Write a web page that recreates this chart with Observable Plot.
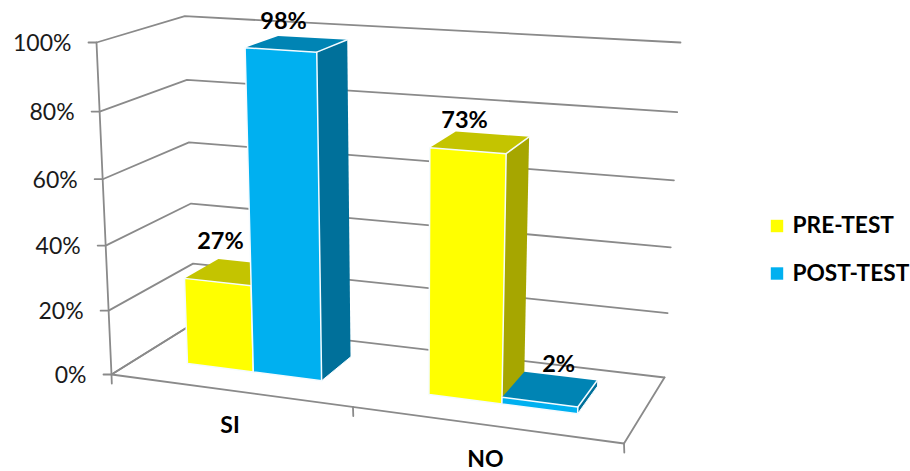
<!doctype html>
<html>
<head>
<meta charset="utf-8">
<style>html,body{margin:0;background:#fff}</style>
<script src="https://cdn.jsdelivr.net/npm/d3@7"></script>
<script src="https://cdn.jsdelivr.net/npm/@observablehq/plot@0.6"></script>
</head>
<body>
<script>
// Survey answers before and after the course, in percent.
const categories = ["SI", "NO"];
const seriesNames = ["PRE-TEST", "POST-TEST"];
const preTest = [27, 73];
const postTest = [98, 2];
const ticks = [0, 20, 40, 60, 80, 100];

const frontColors = ["#FFFF00", "#00B0F0"];
const topColors = ["#C4C400", "#0084B4"];
const sideColors = ["#A6A600", "#00709A"];
const gridColor = "#8A8A8A";

// Perspective box of the 3D chart: floor and ceiling quads, listed
// front-left, front-right, back-right, back-left.
const floorQuad = [[111, 374], [623.5, 443], [664, 377], [194.5, 322]];
const ceilingQuad = [[96, 42], [639, 76], [680, 42], [184.3, 15.7]];

function homography([p0, p1, p2, p3]) {
  const dx1 = p1[0] - p2[0], dx2 = p3[0] - p2[0], sx = p0[0] - p1[0] + p2[0] - p3[0];
  const dy1 = p1[1] - p2[1], dy2 = p3[1] - p2[1], sy = p0[1] - p1[1] + p2[1] - p3[1];
  const den = dx1 * dy2 - dx2 * dy1;
  const g = (sx * dy2 - dx2 * sy) / den, h = (dx1 * sy - sx * dy1) / den;
  const a = p1[0] - p0[0] + g * p1[0], b = p3[0] - p0[0] + h * p3[0];
  const d = p1[1] - p0[1] + g * p1[1], e = p3[1] - p0[1] + h * p3[1];
  return (u, v) => {
    const w = g * u + h * v + 1;
    return [(a * u + b * v + p0[0]) / w, (d * u + e * v + p0[1]) / w];
  };
}
const floorAt = homography(floorQuad);
const ceilingAt = homography(ceilingQuad);

// u runs along the categories, v into the depth, value up the wall.
function project(u, v, value) {
  const t = value / 100;
  const s = t / (1 + 0.05 * (1 - t));
  const f = floorAt(u, v), c = ceilingAt(u, v);
  return {x: f[0] + (c[0] - f[0]) * s, y: f[1] + (c[1] - f[1]) * s};
}

const groupCenters = [0.253, 0.753];
const barWidths = [0.144, 0.14];
const depthFront = 0.31, depthBack = 0.73;

const layers = [];
const poly = (points, options) => layers.push(Plot.line(points, {x: "x", y: "y", ...options}));

// Walls: one polyline per gridline, with its tick on the left.
const gridStyle = {stroke: gridColor, strokeWidth: 1.8};
for (const t of ticks) {
  const a = project(0, 0, t);
  poly([{x: a.x - 8, y: a.y}, a, project(0, 1, t), project(1, 1, t)], gridStyle);
}
poly([project(0, 0, 100), project(0, 0, 0)], gridStyle);
poly([project(0, 1, 0), project(0, 0, 0), project(1, 0, 0), project(1, 1, 0)], gridStyle);
for (const u of [0, 0.505, 1]) {
  const a = project(u, 0, 0);
  poly([a, {x: a.x + 0.3, y: a.y + 9}], gridStyle);
}

// Bars, back to front, each as side, top and front faces.
const bars = categories.flatMap((c, i) => [
  {u0: groupCenters[i] - barWidths[i], u1: groupCenters[i], value: preTest[i], s: 0},
  {u0: groupCenters[i], u1: groupCenters[i] + barWidths[i], value: postTest[i], s: 1}
]);
for (const b of bars) {
  const fbl = project(b.u0, depthFront, 0), fbr = project(b.u1, depthFront, 0);
  const ftl = project(b.u0, depthFront, b.value), ftr = project(b.u1, depthFront, b.value);
  const bbr = project(b.u1, depthBack, 0);
  const btr = project(b.u1, depthBack, b.value), btl = project(b.u0, depthBack, b.value);
  poly([fbr, bbr, btr, ftr, fbr], {fill: sideColors[b.s], stroke: "none"});
  poly([ftl, ftr, btr, btl, ftl], {fill: topColors[b.s], stroke: "none"});
  poly([fbl, fbr, ftr, ftl, fbl], {fill: frontColors[b.s], stroke: "none"});
  const edge = {stroke: "#F4FBFF", strokeWidth: 1.5};
  poly([fbl, fbr, ftr, ftl, fbl], edge);
  poly([ftr, btr], edge);
  poly([fbr, bbr], {...edge, strokeWidth: 1});
}

// Value labels sit over the bar tops; each one is nudged clear of its bar.
const labelNudges = [[3, -41], [3, -28], [-3, -30], [19, -38]];
const valueLabels = bars.map((b, i) => {
  const p = project((b.u0 + b.u1) / 2, depthFront, b.value);
  return {x: p.x + labelNudges[i][0], y: p.y + labelNudges[i][1], text: `${b.value}%`};
});

const tickLabels = ticks.map((t) => {
  const p = project(0, 0, t);
  return {x: p.x - 25, y: p.y + 1, text: `${t}%`};
});
const categoryLabels = categories.map((c, i) => {
  const p = project(i === 0 ? 0.25 : 0.75, 0, 0);
  return {x: p.x + 3, y: p.y + 35.5, text: c};
});
const legend = seriesNames.map((name, i) => ({x: 776.5, y: [225.5, 273][i], text: name, color: frontColors[i]}));

const font = "Lato";
const chart = Plot.plot({
  width: 910,
  height: 471,
  margin: 0,
  x: {domain: [0, 910], range: [0, 910], axis: null},
  y: {domain: [0, 471], range: [0, 471], axis: null},
  style: {fontFamily: font, background: "#fff"},
  marks: [
    ...layers,
    Plot.text(tickLabels, {x: "x", y: "y", text: "text", textAnchor: "end", fontSize: 23, fill: "#1a1a1a"}),
    Plot.text(valueLabels, {x: "x", y: "y", text: "text", fontSize: 23.5, fontWeight: 700, fill: "#000"}),
    Plot.text(categoryLabels, {x: "x", y: "y", text: "text", fontSize: 23, fontWeight: 700, fill: "#000"}),
    Plot.dot(legend, {x: "x", y: "y", symbol: "square", r: 7, fill: "color"}),
    Plot.text(legend, {x: (d) => d.x + 15.5, y: "y", text: "text", textAnchor: "start", fontSize: 22.7, fontWeight: 700, fill: "#000"})
  ]
});
document.body.appendChild(chart);
</script>
</body>
</html>
